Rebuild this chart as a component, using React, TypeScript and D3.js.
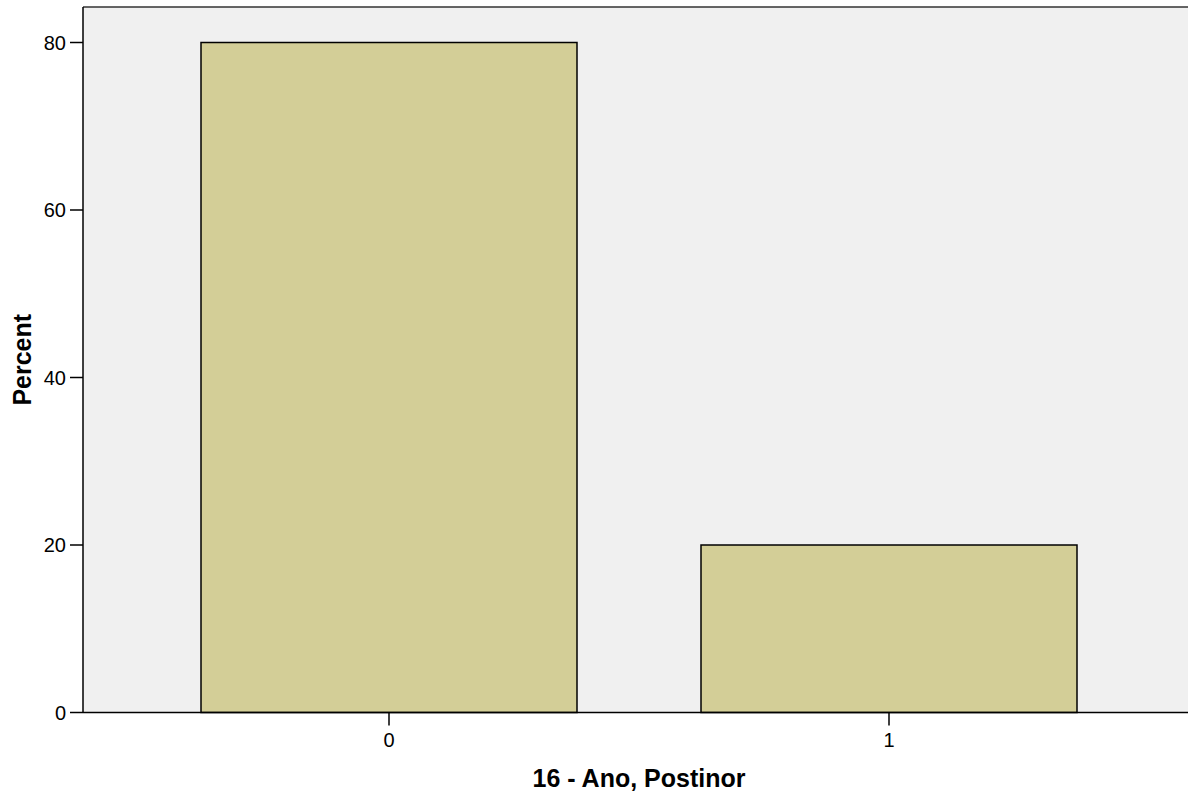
import React from "react";
import * as d3 from "d3";

const categories = ["0", "1"];
const percents = [80.0, 20.0];
const yTicks = [0, 20, 40, 60, 80];
const xTitle = "16 - Ano, Postinor";
const yTitle = "Percent";

const W = 1188;
const H = 797;
const left = 83;
const right = 1195;
const top = 7;
const bottom = 712.5;

export default function App() {
  const x = d3
    .scaleBand<string>()
    .domain(categories)
    .range([left, right])
    .paddingInner(0.248)
    .paddingOuter(0.236);
  const y = d3.scaleLinear().domain([0, 80]).range([bottom, 42.5]);
  const font = "'Liberation Sans', Arial, sans-serif";

  return (
    <svg
      width={W}
      height={H}
      style={{ position: "absolute", left: 0, top: 0, background: "#fff" }}
    >
      <rect x={left} y={top} width={right - left} height={bottom - top} fill="#F0F0F0" />
      <line x1={left} x2={right} y1={top} y2={top} stroke="#333" strokeWidth={1.5} />
      {categories.map((c, i) => (
        <rect
          key={c}
          x={x(c)}
          y={y(percents[i])}
          width={x.bandwidth()}
          height={y(0) - y(percents[i])}
          fill="#D3CE97"
          stroke="#000"
          strokeWidth={1.5}
        />
      ))}
      <line x1={left} x2={right} y1={bottom} y2={bottom} stroke="#000" strokeWidth={1.5} />
      <line x1={left} x2={left} y1={top} y2={bottom} stroke="#000" strokeWidth={1.5} />
      {yTicks.map((t) => (
        <g key={t}>
          <line x1={left - 13} x2={left} y1={y(t)} y2={y(t)} stroke="#000" strokeWidth={1.5} />
          <text
            x={left - 17}
            y={y(t)}
            dy="0.35em"
            textAnchor="end"
            fontFamily={font}
            fontSize={20}
            fill="#000"
          >
            {t}
          </text>
        </g>
      ))}
      {categories.map((c) => {
        const cx = (x(c) as number) + x.bandwidth() / 2;
        return (
          <g key={c}>
            <line x1={cx} x2={cx} y1={bottom} y2={bottom + 13} stroke="#000" strokeWidth={1.5} />
            <text
              x={cx}
              y={747}
              textAnchor="middle"
              fontFamily={font}
              fontSize={20}
              fill="#000"
            >
              {c}
            </text>
          </g>
        );
      })}
      <text
        x={(left + right) / 2}
        y={787}
        textAnchor="middle"
        fontFamily={font}
        fontSize={25}
        fontWeight="bold"
        fill="#000"
      >
        {xTitle}
      </text>
      <text
        transform={`translate(31, ${(top + bottom) / 2}) rotate(-90)`}
        textAnchor="middle"
        fontFamily={font}
        fontSize={25}
        fontWeight="bold"
        fill="#000"
      >
        {yTitle}
      </text>
    </svg>
  );
}
